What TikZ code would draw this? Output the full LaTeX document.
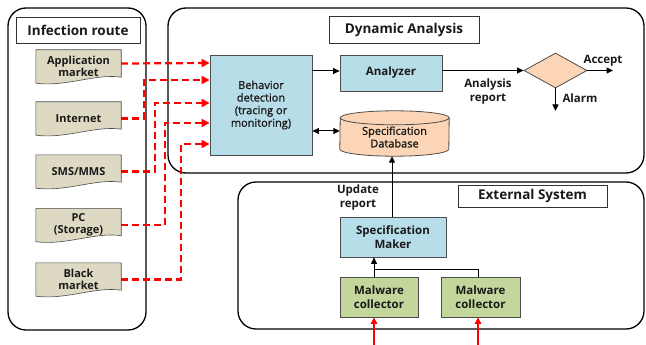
\documentclass[tikz,border=0pt]{standalone}
\usepackage{fontspec}
\setmainfont{Open Sans}
\newfontfamily\semibfont[FakeBold=1.2]{Open Sans}
\usetikzlibrary{shapes.geometric,arrows.meta,backgrounds}
\definecolor{doctan}{HTML}{DDD9C3}
\definecolor{lblue}{HTML}{B7DDE8}
\definecolor{lorange}{HTML}{FBD5B5}
\definecolor{lgreen}{HTML}{C3D69B}
\definecolor{txt}{HTML}{1A1A1A}
\newcommand{\docshape}[1]{%
  \path[docline] (#1.north west) -- (#1.north east) -- ([yshift=6pt]#1.south east)
    .. controls ([xshift=-25pt,yshift=10pt]#1.south east) and ([xshift=30pt,yshift=-4pt]#1.south west) .. (#1.south west) -- cycle;}
\begin{document}
\begin{tikzpicture}[x=1pt,y=-1pt,
  group/.style={draw=black, line width=1.3pt, rounded corners=18pt},
  titlebox/.style={draw=black!80, line width=0.8pt, fill=white, inner sep=0pt, text=txt,
     font=\bfseries\fontsize{13.5}{15}\selectfont},
  docnode/.style={minimum width=85pt, minimum height=33pt, inner sep=0pt, align=center, text=txt,
     font=\bfseries\fontsize{11}{12}\selectfont},
  docline/.style={draw=black!70, fill=doctan, line width=0.6pt},
  box/.style={draw=black!70, line width=0.8pt, inner sep=0pt, align=center, text=txt,
     font=\bfseries\fontsize{11.5}{14.5}\selectfont},
  plain/.style={font=\semibfont\fontsize{11}{12.6}\selectfont},
  lbl/.style={inner sep=0pt, align=center, text=txt, font=\bfseries\fontsize{11.5}{14}\selectfont},
  arr/.style={draw=black, line width=1pt, -{Triangle[length=6.5pt,width=6pt]}},
  darr/.style={draw=black, line width=1pt, {Triangle[length=6.5pt,width=6pt]}-{Triangle[length=6.5pt,width=6pt]}},
  ln/.style={draw=black, line width=1pt},
  reddash/.style={draw=red, line width=2.2pt, dash pattern=on 7pt off 4pt, -{Triangle[length=8pt,width=8pt]}},
  redarr/.style={draw=red, line width=1.4pt, -{Triangle[length=6.5pt,width=6.5pt]}}
]
\useasboundingbox (0,0) rectangle (646,345);
% group frames
\draw[group] (8,8) rectangle (146,330);
\draw[group] (168,8) rectangle (644,173);
\draw[group] (238,182) rectangle (644,329);
% titles
\node[titlebox, minimum width=124pt, minimum height=26pt] (t1) at (78,30) {Infection route};
\node[titlebox, minimum width=150pt, minimum height=27pt] (t2) at (404,29.5) {Dynamic Analysis};
\node[titlebox, minimum width=149pt, minimum height=22pt] (t3) at (532.5,196) {External System};
% infection sources
\node[docnode] (app) at (78.5,66.5) {Application\\market};
\node[docnode] (int) at (78.5,118.5) {Internet};
\node[docnode] (sms) at (78.5,171.5) {SMS/MMS};
\node[docnode] (pc) at (78.5,225) {PC\\(Storage)};
\node[docnode] (blk) at (78.5,279.5) {Black\\market};
% dynamic analysis
\node[box, plain, fill=lblue, minimum width=102pt, minimum height=100pt] (beh) at (261,105) {Behavior\\detection\\(tracing or\\monitoring)};
\node[box, fill=lblue, minimum width=102pt, minimum height=36pt] (ana) at (391,73) {Analyzer};
\node[inner sep=0pt, align=center, text=txt, plain, minimum width=109pt, minimum height=38pt] (db) at (394.5,137) {Specification\\Database};
\node[diamond, draw=black!70, line width=0.8pt, fill=lorange, inner sep=0pt, minimum width=63pt, minimum height=35pt] (dec) at (555.5,70.5) {};
\coordinate (acc) at (613,70.5);
\coordinate (alm) at (555.5,111);
\node[lbl] (lacc) at (603,61) {Accept};
\node[lbl] (lalm) at (580,98) {Alarm};
\node[lbl] (lrep) at (488,92) {Analysis\\report};
% external system
\node[box, fill=lblue, minimum width=106pt, minimum height=40pt] (sm) at (393,237) {Specification\\Maker};
\node[box, fill=lgreen, minimum width=78pt, minimum height=40pt] (c1) at (379,297) {Malware\\collector};
\node[box, fill=lgreen, minimum width=79pt, minimum height=40pt] (c2) at (480.5,297) {Malware\\collector};
\node[lbl] (lupd) at (358,198) {Update\\report};
\coordinate (r1) at (374,345);
\coordinate (r2) at (478,345);
\coordinate (jn) at (374,269);
% backgrounds for doc shapes and cylinder
\begin{scope}[on background layer]
  \docshape{app}\docshape{int}\docshape{sms}\docshape{pc}\docshape{blk}
  \path[draw=black!70, fill=lorange, line width=0.8pt]
    ([yshift=7pt]db.south west) arc[start angle=180, end angle=360, x radius=54.5pt, y radius=7pt]
    -- (db.north east) arc[start angle=0, end angle=180, x radius=54.5pt, y radius=7pt] -- cycle;
  \draw[draw=black!70, line width=0.8pt] (db.north east) arc[start angle=0, end angle=-180, x radius=54.5pt, y radius=7pt];
\end{scope}
% red dashed routes
\draw[reddash] ([yshift=3pt]app.east) -- (beh.west |- 0,63);
\draw[reddash] (int.east) -| (144,80) -- (beh.west |- 0,80);
\draw[reddash] (sms.east) -| (155,103) -- (beh.west |- 0,103);
\draw[reddash] (pc.east) -| (165,123) -- (beh.west |- 0,123);
\draw[reddash] (blk.east) -| (181,144) -- (beh.west |- 0,144);
% black connectors
\draw[arr] (beh.east |- 0,71) -- (ana.west |- 0,71);
\draw[darr] (beh.east |- 0,131) -- (db.west |- 0,131);
\draw[arr] (ana.east |- dec.west) -- (dec.west);
\draw[arr] (dec.east) -- (acc);
\draw[arr] (dec.south) -- (alm);
\draw[arr] (sm.north -| 392,0) -- (392,0 |- db.south);
\draw[arr] (c1.north -| jn) -- (sm.south -| jn);
\draw[ln] (c2.north -| r2) |- (jn);
\draw[redarr] (r1) -- (r1 |- c1.south);
\draw[redarr] (r2) -- (r2 |- c2.south);
\end{tikzpicture}
\end{document}
